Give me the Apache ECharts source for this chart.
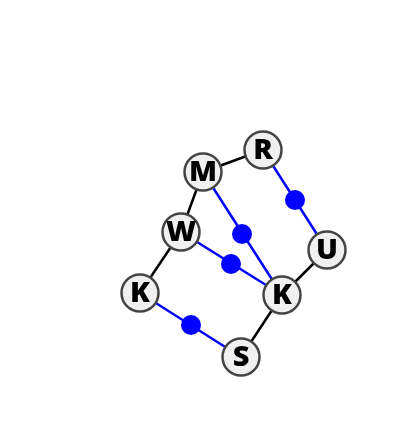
<!DOCTYPE html>
<html>
<head>
<meta charset="utf-8">
<script src="https://cdn.jsdelivr.net/npm/echarts@6/dist/echarts.min.js"></script>
<style>
html, body { margin: 0; padding: 0; background: #fff; }
#chart { width: 400px; height: 440px; }
</style>
</head>
<body>
<div id="chart"></div>
<script>
// atoms: label, x, y (layout position in the 400x440 frame)
var atomNames = ['M', 'R', 'W', 'U', 'K', 'K', 'S'];
var atomX = [203, 263, 181, 327, 140, 282, 241];
var atomY = [172, 150, 232, 250, 293, 295, 357];
// link markers (blue dots)
var dotX = [295, 242, 231, 191];
var dotY = [200, 234, 264, 325];
// bonds: [from, to]
var blackBonds = [[0, 1], [0, 2], [2, 4], [5, 3], [5, 6]];
var blueBonds = [[1, 3], [0, 5], [2, 5], [4, 6]];

var chart = echarts.init(document.getElementById('chart'));

var nodes = [];
for (var i = 0; i < atomNames.length; i++) {
    nodes.push({
        name: 'a' + i,
        value: [atomX[i], atomY[i]],
        label: { show: true, formatter: atomNames[i] }
    });
}
var links = [];
blackBonds.forEach(function (b) {
    links.push({ source: 'a' + b[0], target: 'a' + b[1], lineStyle: { color: '#000' } });
});
blueBonds.forEach(function (b) {
    links.push({ source: 'a' + b[0], target: 'a' + b[1], lineStyle: { color: '#0000ff' } });
});
var dots = [];
for (var j = 0; j < dotX.length; j++) {
    dots.push([dotX[j], dotY[j]]);
}

chart.setOption({
    animation: false,
    grid: { left: 0, right: 0, top: 0, bottom: 0 },
    xAxis: { type: 'value', min: 0, max: 400, show: false },
    yAxis: { type: 'value', min: 0, max: 440, inverse: true, show: false },
    series: [{
        type: 'graph',
        coordinateSystem: 'cartesian2d',
        layout: 'none',
        symbol: 'circle',
        symbolSize: 37,
        z: 2,
        itemStyle: { color: '#f0f0f0', borderColor: '#444', borderWidth: 2.5, opacity: 1 },
        label: {
            position: 'inside',
            color: '#000',
            fontFamily: 'Open Sans',
            fontWeight: 800,
            fontSize: 29,
            offset: [0, 1]
        },
        lineStyle: { width: 2.5, opacity: 1 },
        data: nodes,
        links: links
    }, {
        type: 'scatter',
        symbol: 'circle',
        symbolSize: 20,
        z: 3,
        itemStyle: { color: '#0000ff', opacity: 1 },
        data: dots
    }]
});
</script>
</body>
</html>
